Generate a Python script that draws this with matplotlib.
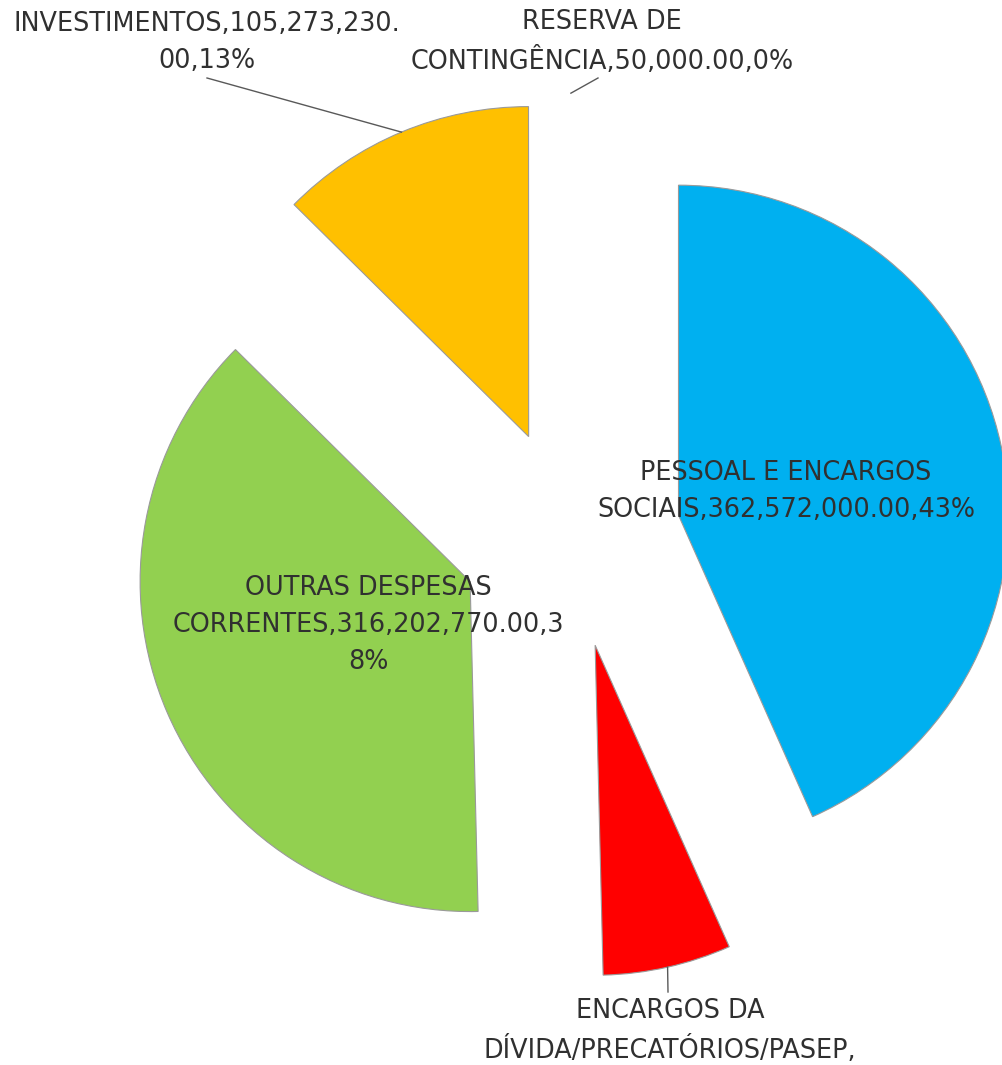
import numpy as np
import matplotlib.pyplot as plt

# Budget split (R$) - debt value, its label is cut off
categories = ["PESSOAL E ENCARGOS SOCIAIS",
              "ENCARGOS DA DÍVIDA/PRECATÓRIOS/PASEP",
              "OUTRAS DESPESAS CORRENTES",
              "INVESTIMENTOS",
              "RESERVA DE CONTINGÊNCIA"]
values = [362572000.00, 52500000.00, 316202770.00, 105273230.00, 50000.00]
colors = ["#00B0F0", "#FF0000", "#92D050", "#FFC000", "#A5A5A5"]

# label text as wrapped in the original chart
label_texts = ["PESSOAL E ENCARGOS\nSOCIAIS,362,572,000.00,43%",
               "ENCARGOS DA\nDÍVIDA/PRECATÓRIOS/PASEP,",
               "OUTRAS DESPESAS\nCORRENTES,316,202,770.00,3\n8%",
               "INVESTIMENTOS,105,273,230.\n00,13%",
               "RESERVA DE\nCONTINGÊNCIA,50,000.00,0%"]

W, H = 1003, 1065
R = 330.0  # pie radius in pixels, used as the data unit


def px(x, y):
    # pixel position (origin top-left) -> data coords
    return x / R, (H - y) / R


fig = plt.figure(figsize=(W / 100, H / 100), dpi=100)
ax = fig.add_axes([0, 0, 1, 1])
ax.axis("off")

center = px(571, 538)
wedges, _ = ax.pie(values, colors=colors, startangle=90, counterclock=False,
                   explode=[0.333] * len(values), radius=1, center=center,
                   wedgeprops=dict(edgecolor="#9a9a9a", linewidth=0.8))
wedges[4].set_visible(False)  # 0% slice, nothing visible
ax.set_xlim(0, W / R)
ax.set_ylim(0, H / R)
ax.set_aspect("equal")

font = dict(family="DejaVu Sans", fontsize=18.4, color="#303030",
            ha="center", va="center", linespacing=1.55)

# inside labels
ax.text(*px(786, 491), label_texts[0], **font)
ax.text(*px(368, 625), label_texts[2], **font)

# outside labels with leader lines from the outer arc
outside = {1: (670, 1031), 3: (207, 42), 4: (602, 42)}
line_end = {1: (668, 992), 3: (207, 78), 4: (598, 78)}
for i, pos in outside.items():
    w = wedges[i]
    mid = np.deg2rad((w.theta1 + w.theta2) / 2)
    r0 = w.r * (1.015 if i == 4 else 1.0)
    x0 = w.center[0] + r0 * np.cos(mid)
    y0 = w.center[1] + r0 * np.sin(mid)
    x1, y1 = px(*line_end[i])
    ax.plot([x0, x1], [y0, y1], color="#595959", lw=1)
    ax.text(*px(*pos), label_texts[i], **font)

fig.savefig("out.png", dpi=100)
